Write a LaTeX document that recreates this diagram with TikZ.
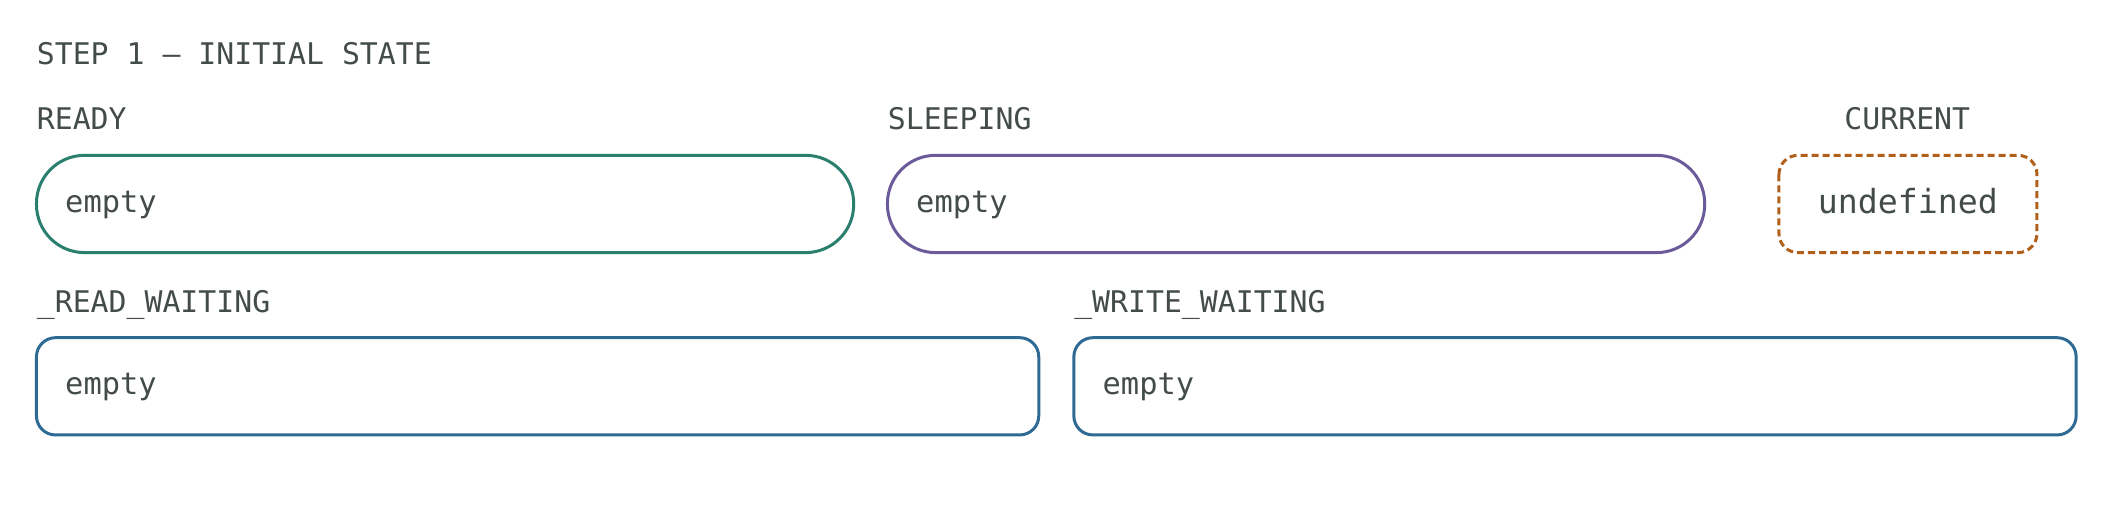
\documentclass[tikz,border=0pt]{standalone}
\usepackage{fontspec}
\setmonofont{DejaVu Sans Mono}
\usetikzlibrary{positioning}
\definecolor{txt}{HTML}{444B4B}
\definecolor{readyc}{HTML}{2A7F6E}
\definecolor{sleepc}{HTML}{6B5B9A}
\definecolor{waitc}{HTML}{2F6A94}
\definecolor{curc}{HTML}{B0601A}
\tikzset{
    x=0.675pt,
    y=-0.675pt,
    lbl/.style = {
        text=txt,
        font=\ttfamily\fontsize{14.9}{17}\selectfont,
        inner sep=0pt,
        anchor=base west
    },
    queue/.style = {
        draw,
        shape=rectangle,
        line width=1.5pt,
        inner sep=0pt
    },
    pill/.style = {
        queue,
        rounded corners=24pt
    },
    slot/.style = {
        queue,
        rounded corners=9.5pt
    },
    val/.style = {
        text=txt,
        font=\ttfamily\fontsize{15.2}{17}\selectfont,
        inner sep=0pt,
        anchor=base west
    },
}
\begin{document}
\begin{tikzpicture}
    \useasboundingbox (0,0) rectangle (1568,377.6);
    \node[lbl] (title) at (27,48) {STEP 1 — INITIAL STATE};

    \node[lbl] (readylbl) at (27,96) {READY};
    \node[lbl] (sleeplbl) at (657,96) {SLEEPING};
    \node[lbl, anchor=base] (curlbl) at (1412,96) {CURRENT};
    \node[lbl] (rwlbl) at (27,231) {\_READ\_WAITING};
    \node[lbl] (wwlbl) at (795,231) {\_WRITE\_WAITING};

    \draw[pill, readyc] (27,115) rectangle (632,187);
    \draw[pill, sleepc] (657,115) rectangle (1262,187);
    \draw[slot, curc, dash pattern=on 3.5pt off 2pt] (1317,115) rectangle (1508,187);
    \draw[slot, waitc] (27,250) rectangle (769,322);
    \draw[slot, waitc] (795,250) rectangle (1537,322);

    \node[val] (readyval) at (48,157) {empty};
    \node[val] (sleepval) at (678,157) {empty};
    \node[val, anchor=base, font=\ttfamily\fontsize{16.6}{19}\selectfont] (curval) at (1412.5,158) {undefined};
    \node[val] (rwval) at (48,292) {empty};
    \node[val] (wwval) at (816,292) {empty};
\end{tikzpicture}
\end{document}
